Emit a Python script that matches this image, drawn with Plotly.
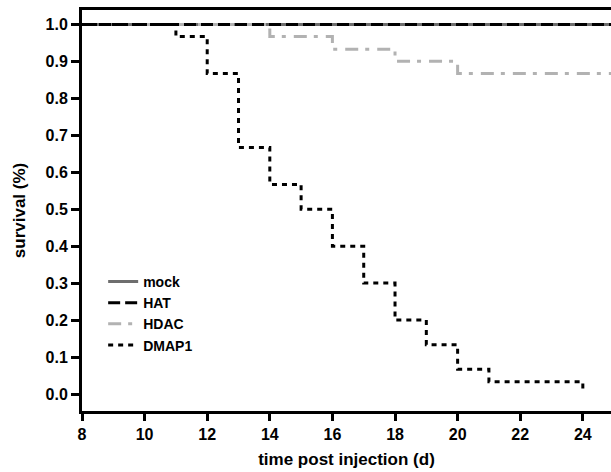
import plotly.graph_objects as go

# Data (Kaplan-Meier style step curves)
mock_t = [8, 25]
mock_s = [1.0, 1.0]

hat_t = [8, 25]
hat_s = [1.0, 1.0]

hdac_t = [8, 14, 16, 18, 20, 25]
hdac_s = [1.0, 0.967, 0.933, 0.9, 0.867, 0.867]

dmap_t = [8, 11, 12, 13, 14, 15, 16, 17, 18, 19, 20, 21, 24, 24]
dmap_s = [1.0, 0.967, 0.867, 0.667, 0.567, 0.5, 0.4, 0.3, 0.2, 0.133, 0.067, 0.033, 0.033, 0.012]

x_ticks = [8, 10, 12, 14, 16, 18, 20, 22, 24]
y_ticks = [0.0, 0.1, 0.2, 0.3, 0.4, 0.5, 0.6, 0.7, 0.8, 0.9, 1.0]

FAM = "Liberation Sans, Arial, sans-serif"

fig = go.Figure()
fig.add_trace(go.Scatter(x=mock_t, y=mock_s, mode="lines", name="mock", legendrank=1,
                         line=dict(color="#6e6e6e", width=3, shape="hv")))
fig.add_trace(go.Scatter(x=hdac_t, y=hdac_s, mode="lines", name="HDAC", legendrank=3,
                         line=dict(color="#b2b2b2", width=3, shape="hv", dash="13px,7px,4px,8px")))
fig.add_trace(go.Scatter(x=hat_t, y=hat_s, mode="lines", name="HAT", legendrank=2,
                         line=dict(color="black", width=3, shape="hv", dash="12px,5px")))
fig.add_trace(go.Scatter(x=dmap_t, y=dmap_s, mode="lines", name="DMAP1", legendrank=4,
                         line=dict(color="black", width=3, shape="hv", dash="5px,5px")))

fig.update_layout(
    width=611, height=472,
    margin=dict(l=82, r=0, t=10, b=61),
    plot_bgcolor="white", paper_bgcolor="white",
    font=dict(family=FAM, size=16, color="black"),
    showlegend=True,
    legend=dict(x=0.04, y=0.362, xanchor="left", yanchor="top",
                traceorder="normal", bgcolor="rgba(0,0,0,0)",
                font=dict(family=FAM, size=14, color="black", weight="bold"),
                tracegroupgap=0, itemwidth=30),
    xaxis=dict(range=[8, 24.9], tickvals=x_ticks, ticktext=[str(v) for v in x_ticks],
               showgrid=False, zeroline=False, showline=True, linecolor="black", linewidth=3,
               mirror=True, ticks="outside", ticklen=7, tickwidth=3, tickcolor="black",
               tickfont=dict(family=FAM, size=16, weight="bold"),
               title=dict(text="time post injection (d)", font=dict(family=FAM, size=17, weight="bold"), standoff=11)),
    yaxis=dict(range=[-0.046, 1.039], tickvals=y_ticks, ticktext=["%.1f" % v for v in y_ticks],
               showgrid=False, zeroline=False, showline=True, linecolor="black", linewidth=3,
               ticks="outside", ticklen=8, tickwidth=3, tickcolor="black",
               tickfont=dict(family=FAM, size=16, weight="bold"),
               title=dict(text="survival (%)", font=dict(family=FAM, size=17, weight="bold"), standoff=16)),
)

fig.write_html("out.html", config={"displayModeBar": False},
               post_script="document.body.style.margin='0';document.body.style.overflow='hidden';")
